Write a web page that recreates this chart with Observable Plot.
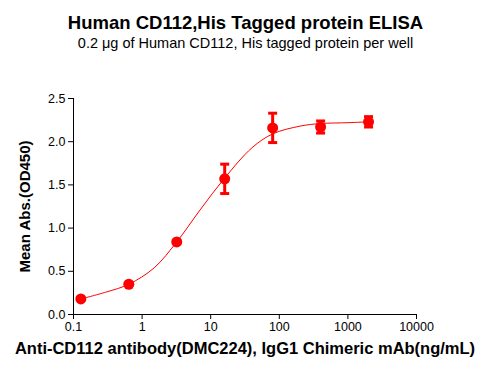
<!DOCTYPE html>
<html><head><meta charset="utf-8">
<script src="https://cdn.jsdelivr.net/npm/d3@7"></script>
<script src="https://cdn.jsdelivr.net/npm/@observablehq/plot@0.6"></script>
<style>
body{margin:0;background:#fff;font-family:"Liberation Sans",Arial,sans-serif;color:#000;}
#wrap{width:491px;height:378px;position:relative;overflow:hidden;}
#head{position:relative;height:60px;}
#t{position:absolute;left:0;width:491px;text-align:center;top:14.3px;font-size:18.5px;line-height:18.5px;font-weight:bold;white-space:nowrap;}
#s{position:absolute;left:0;width:491px;text-align:center;top:35.7px;font-size:14.5px;line-height:14.5px;white-space:nowrap;}
#chart svg{display:block;}
</style></head>
<body>
<div id="wrap">
  <div id="head">
    <div id="t">Human CD112,His Tagged protein ELISA</div>
    <div id="s">0.2 μg of Human CD112, His tagged protein per well</div>
  </div>
  <div id="chart"></div>
</div>
<script>
// Measured points (ng/mL, OD450)
const conc    = [0.128, 0.64, 3.2, 16, 80, 400, 2000];
const meanAbs = [0.18, 0.35, 0.84, 1.57, 2.16, 2.17, 2.23];
const sdAbs   = [0.005, 0.01, 0.01, 0.17, 0.17, 0.07, 0.06];

// Fitted curve
const fitConc = [0.128, 0.3, 0.64, 1.5, 3.2, 7, 16, 40, 80, 200, 400, 1000, 2000];
const fitAbs  = [0.18, 0.26, 0.35, 0.54, 0.84, 1.21, 1.58, 1.93, 2.09, 2.18, 2.21, 2.22, 2.23];

const xTicks = [0.1, 1, 10, 100, 1000, 10000];
const xTickLabels = ["0.1", "1", "10", "100", "1000", "10000"];
const yTicks = [0, 0.5, 1, 1.5, 2, 2.5];
const yTickLabels = ["0.0", "0.5", "1.0", "1.5", "2.0", "2.5"];

const xLabel = "Anti-CD112 antibody(DMC224), IgG1 Chimeric mAb(ng/mL)";
const yLabel = "Mean Abs.(OD450)";

const points = conc.map((c, i) => ({c, m: meanAbs[i], lo: meanAbs[i] - sdAbs[i], hi: meanAbs[i] + sdAbs[i]}));
const fit = fitConc.map((c, i) => ({c, v: fitAbs[i]}));
const caps = points.flatMap(p => [{c: p.c, v: p.lo}, {c: p.c, v: p.hi}]);

const capSymbol = {draw(ctx) { ctx.moveTo(-4.5, 0); ctx.lineTo(4.5, 0); }};

const chart = Plot.plot({
  width: 491,
  height: 318,
  marginTop: 38,
  marginLeft: 73,
  marginRight: 75,
  marginBottom: 64,
  style: {fontFamily: "Liberation Sans, Arial, sans-serif", fontSize: "12px", color: "#000", background: "#fff"},
  x: {type: "log", domain: [0.1, 10000]},
  y: {domain: [0, 2.5]},
  marks: [
    Plot.axisX(xTicks, {tickFormat: d => xTickLabels[xTicks.indexOf(d)], tickSize: 5, tickPadding: 3, fontSize: 12.5, label: null, stroke: "#000", fill: "#000"}),
    Plot.axisY(yTicks, {tickFormat: d => yTickLabels[yTicks.indexOf(d)], tickSize: 5, tickPadding: 3, fontSize: 12.5, label: null, stroke: "#000", fill: "#000"}),
    Plot.ruleX([0.1], {stroke: "#000", strokeWidth: 1}),
    Plot.ruleY([0], {stroke: "#000", strokeWidth: 1}),
    Plot.line(fit, {x: "c", y: "v", stroke: "#ff0000", strokeWidth: 1, curve: "catmull-rom"}),
    Plot.ruleX(points, {x: "c", y1: "lo", y2: "hi", stroke: "#ff0000", strokeWidth: 3}),
    Plot.dot(caps, {x: "c", y: "v", symbol: capSymbol, r: 3, stroke: "#ff0000", strokeWidth: 3, fill: "none"}),
    Plot.dot(points, {x: "c", y: "m", r: 5.5, fill: "#ff0000", stroke: "none"}),
    Plot.text([xLabel], {frameAnchor: "bottom", dy: 39, fontWeight: "bold", fontSize: 16.5, fill: "#000"}),
    Plot.text([yLabel], {frameAnchor: "left", textAnchor: "middle", dx: -48, rotate: -90, fontWeight: "bold", fontSize: 15, fill: "#000"})
  ]
});
document.getElementById("chart").appendChild(chart);
</script>
</body></html>
